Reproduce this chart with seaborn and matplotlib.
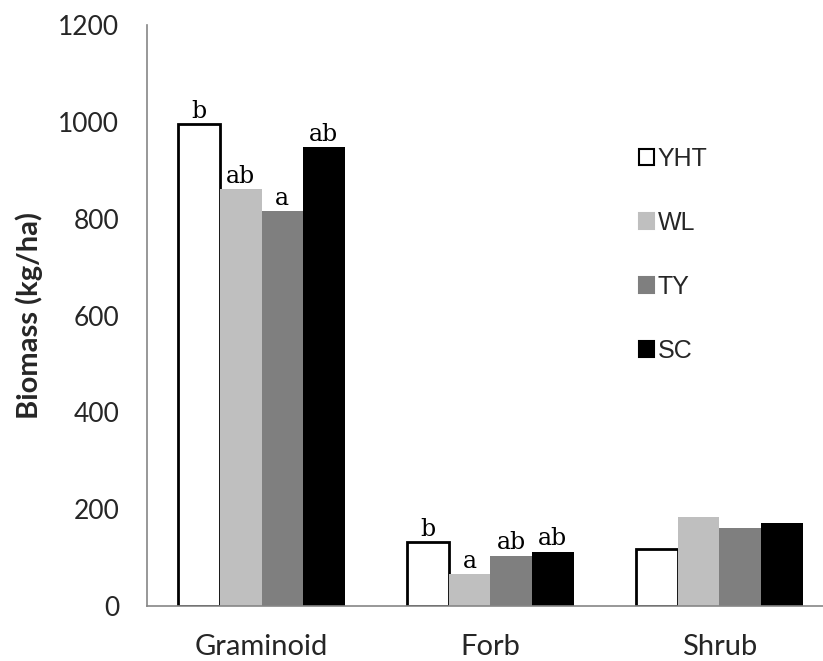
import matplotlib
matplotlib.use("Agg")
import matplotlib.pyplot as plt
import seaborn as sns
import pandas as pd

# Biomass by plant functional group and site
groups = ["Graminoid", "Forb", "Shrub"]
sites = ["YHT", "WL", "TY", "SC"]
yht = [995, 132, 118]
wl = [861, 66, 184]
ty = [816, 104, 161]
sc = [948, 112, 171]
# significance letters (per group, per site); empty where none shown
letters_yht = ["b", "b", ""]
letters_wl = ["ab", "a", ""]
letters_ty = ["a", "ab", ""]
letters_sc = ["ab", "ab", ""]
site_colors = ["#ffffff", "#bfbfbf", "#7f7f7f", "#000000"]
yticks = [0, 200, 400, 600, 800, 1000, 1200]

values = [yht, wl, ty, sc]
letters = [letters_yht, letters_wl, letters_ty, letters_sc]
rows = []
for site, vals in zip(sites, values):
    for g, v in zip(groups, vals):
        rows.append({"group": g, "site": site, "biomass": v})
df = pd.DataFrame(rows)

sns.set_style("white")
fig = plt.figure(figsize=(8.23, 6.61), dpi=100)
ax = fig.add_axes([147 / 823, 1 - 606 / 661, (834 - 147) / 823, (606 - 25) / 661])

sns.barplot(data=df, x="group", y="biomass", hue="site", order=groups,
            hue_order=sites, palette=site_colors, width=0.725, ax=ax,
            saturation=1, linewidth=0, legend=False)

# outline the white bars
for bar in ax.containers[0]:
    bar.set_edgecolor("black")
    bar.set_linewidth(2)

# significance letters above bars
for cont, labs in zip(ax.containers, letters):
    for bar, lab in zip(cont, labs):
        if lab:
            ax.annotate(lab, (bar.get_x() + bar.get_width() / 2, bar.get_height()),
                        xytext=(0, 1), textcoords="offset points",
                        ha="center", va="bottom", fontsize=17,
                        family="DejaVu Serif", color="black")

ax.set_xlim(-0.5, 2.5)
ax.set_ylim(0, 1200)
ax.set_yticks(yticks)
ax.set_yticklabels([str(t) for t in yticks], fontsize=19, family="Lato")
ax.set_xticks(range(len(groups)))
ax.set_xticklabels(groups, fontsize=21, family="Lato")
ax.set_xticks([-0.5, 0.5, 1.5], minor=True)
ax.tick_params(axis="x", which="major", length=0, pad=20.5)
ax.tick_params(axis="x", which="minor", length=8, width=1, color="#868686", direction="out")
ax.tick_params(axis="y", which="major", length=7, width=1, color="#868686", direction="out", pad=13)
ax.set_xlabel("")
ax.set_ylabel("Biomass (kg/ha)", fontsize=21, family="Lato", fontweight="bold")
ax.yaxis.set_label_coords(-0.152, 0.5)

for side in ["top", "right"]:
    ax.spines[side].set_visible(False)
for side in ["left", "bottom"]:
    ax.spines[side].set_color("#868686")
    ax.spines[side].set_linewidth(1.2)
ax.grid(False)

# legend
handles = []
for site, col in zip(sites, site_colors):
    ec = "black" if col == "#ffffff" else col
    handles.append(plt.Rectangle((0, 0), 1, 1, facecolor=col, edgecolor=ec, linewidth=1.5))
leg = ax.legend(handles, sites, loc="upper left", bbox_to_anchor=(639 / 823, 1 - 147 / 661),
                bbox_transform=fig.transFigure, frameon=False,
                prop={"family": "Liberation Sans", "size": 18},
                handlelength=0.6, handleheight=0.6, handletextpad=0.15,
                labelspacing=1.6, borderaxespad=0, borderpad=0)

fig.savefig("out.png", dpi=100)
